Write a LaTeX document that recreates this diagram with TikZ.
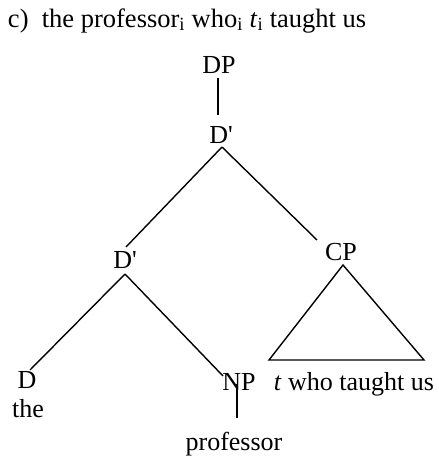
\documentclass[tikz,border=0pt]{standalone}
\usepackage{fontspec}
\setmainfont{Liberation Serif}
\usetikzlibrary{calc}
\begin{document}
\begin{tikzpicture}[x=1pt,y=-1pt,
  lbl/.style={inner sep=0pt, outer sep=0pt, anchor=base, font=\fontsize{26}{30}\selectfont},
  cat/.style={lbl, text height=17pt, text depth=0pt},
  edge/.style={line width=1.4pt, line cap=butt}]
\useasboundingbox (0,0) rectangle (439,456);
% title
\node[lbl, anchor=base west, font=\fontsize{26.5}{30}\selectfont] (title) at (8,27)
  {c)\ \ the professor\textsubscript{i} who\textsubscript{i} \textit{t}\textsubscript{i} taught us};
% nodes
\node[cat] (DP) at (219,73) {DP};
\node[cat] (D1) at (221,143) {D\textquotesingle};
\node[cat] (D2) at (125,268) {D\textquotesingle};
\node[cat] (CP) at (341,260) {CP};
\node[cat] (D) at (27,388) {D};
\node[cat] (NP) at (239,390) {NP};
\node[lbl] (the) at (28,417) {the};
\node[lbl] (prof) at (234,450) {professor};
\node[lbl] (cpt) at (354,390) {\textit{t} who taught us};
% triangle corners
\coordinate (apex) at (343,265);
\coordinate (bl) at (269,360);
\coordinate (br) at (424,360);
% edges
\draw[edge] ([shift={(-1pt,-5pt)}]DP.south) -- ([shift={(-3pt,11pt)}]D1.north);
\draw[edge] ([shift={(1pt,-4pt)}]D1.south) -- ([shift={(1pt,4pt)}]D2.north);
\draw[edge] ([shift={(1pt,-4pt)}]D1.south) -- ([shift={(-24pt,3pt)}]CP.north);
\draw[edge] ([shift={(0pt,-6pt)}]D2.south) -- ([shift={(3pt,1pt)}]D.north);
\draw[edge] ([shift={(0pt,-6pt)}]D2.south) -- ([shift={(-16pt,-3pt)}]NP.north);
\draw[edge, line join=miter] (apex) -- (bl) -- (br) -- cycle;
\draw[edge] ([shift={(-2pt,6pt)}]NP.south) -- ([shift={(3pt,14pt)}]prof.north);
\end{tikzpicture}
\end{document}
